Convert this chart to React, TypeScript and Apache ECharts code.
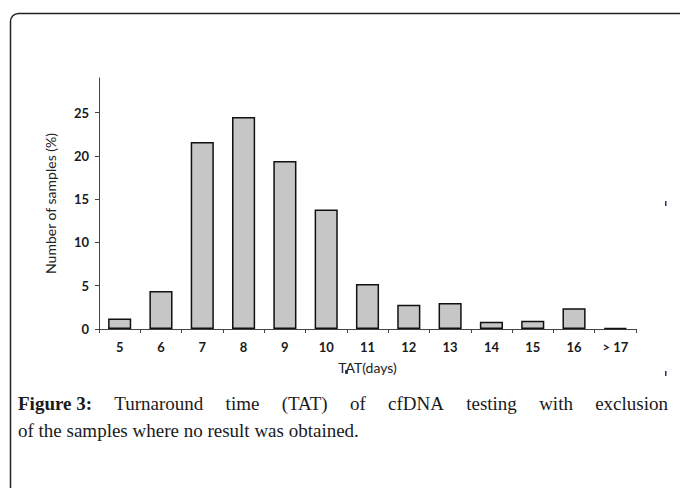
import React, { useEffect, useRef } from "react";
import * as echarts from "echarts";

const categories = ["5", "6", "7", "8", "9", "10", "11", "12", "13", "14", "15", "16", "> 17"];
const percentValues = [1.2, 4.4, 21.6, 24.5, 19.4, 13.8, 5.2, 2.8, 3.0, 0.85, 0.95, 2.4, 0.1];
const yTicks = [0, 5, 10, 15, 20, 25];
const xTitle = "TAT(days)";
const yTitle = "Number of samples (%)";
const captionBold = "Figure 3:";
const captionLine1Words = ["Turnaround", "time", "(TAT)", "of", "cfDNA", "testing", "with", "exclusion"];
const captionLine2 = "of the samples where no result was obtained.";

export default function App() {
  const ref = useRef<HTMLDivElement>(null);
  useEffect(() => {
    if (!ref.current) return;
    const chart = echarts.init(ref.current, null, { renderer: "svg" });
    const serif = "'Liberation Serif', 'DejaVu Serif', serif";
    const sans = "Lato, 'Open Sans', sans-serif";
    const boldFont = `bold 19px ${serif}`;
    const normFont = `19px ${serif}`;

    // justify caption line 1 between left and right margins
    const cv = document.createElement("canvas");
    const ctx = cv.getContext("2d")!;
    const words = [{ t: captionBold, f: boldFont }, ...captionLine1Words.map((t) => ({ t, f: normFont }))];
    const widths = words.map((w) => {
      ctx.font = w.f;
      return ctx.measureText(w.t).width;
    });
    const left = 18;
    const right = 668;
    const total = widths.reduce((a, b) => a + b, 0);
    const gap = (right - left - total) / (words.length - 1);

    const graphics: any[] = [
      {
        type: "rect",
        shape: { x: 10.5, y: 13.5, width: 720, height: 520, r: 8 },
        style: { fill: "none", stroke: "#222", lineWidth: 1.5 },
        silent: true,
      },
      { type: "rect", shape: { x: 665, y: 201, width: 1.5, height: 5 }, style: { fill: "#1f3864" } },
      { type: "rect", shape: { x: 665, y: 371, width: 1.5, height: 5 }, style: { fill: "#1f3864" } },
      { type: "rect", shape: { x: 345, y: 370, width: 3, height: 4 }, style: { fill: "#2e5597" } },
    ];
    let cx = left;
    words.forEach((w, i) => {
      graphics.push({
        type: "text",
        x: cx,
        y: 403,
        style: { text: w.t, font: w.f, fill: "#1a1a1a", verticalAlign: "middle", align: "left" },
      });
      cx += widths[i] + gap;
    });
    graphics.push({
      type: "text",
      x: left,
      y: 430,
      style: { text: captionLine2, font: normFont, fill: "#1a1a1a", verticalAlign: "middle", align: "left" },
    });

    chart.setOption({
      animation: false,
      backgroundColor: "#fff",
      grid: { left: 99, top: 78, right: 44, bottom: 159, containLabel: false },
      xAxis: {
        type: "category",
        data: categories,
        name: xTitle,
        nameLocation: "middle",
        nameGap: 31,
        nameTextStyle: { fontFamily: sans, fontSize: 14, color: "#222" },
        axisLine: { lineStyle: { color: "#444", width: 1 } },
        axisTick: { show: true, alignWithLabel: false, length: 4, lineStyle: { color: "#444" } },
        axisLabel: { fontFamily: sans, fontWeight: "bold", fontSize: 13, color: "#1a1a1a", margin: 11 },
      },
      yAxis: {
        type: "value",
        min: 0,
        max: 29,
        interval: 5,
        name: yTitle,
        nameLocation: "middle",
        nameGap: 42,
        nameTextStyle: { fontFamily: sans, fontSize: 14, color: "#222" },
        splitLine: { show: false },
        axisLine: { show: true, lineStyle: { color: "#444", width: 1 } },
        axisTick: { show: true, length: 4, lineStyle: { color: "#444" }, customValues: yTicks },
        axisLabel: {
          fontFamily: sans,
          fontWeight: "bold",
          fontSize: 13,
          color: "#1a1a1a",
          margin: 10,
          customValues: yTicks,
        },
      },
      series: [
        {
          type: "bar",
          data: percentValues,
          barWidth: "56%",
          itemStyle: { color: "#c6c6c6", borderColor: "#111", borderWidth: 1.5 },
        },
      ],
      graphic: graphics,
    });
    return () => chart.dispose();
  }, []);
  return (
    <div
      ref={ref}
      style={{ position: "fixed", left: 0, top: 0, width: 680, height: 488, background: "#fff" }}
    />
  );
}
